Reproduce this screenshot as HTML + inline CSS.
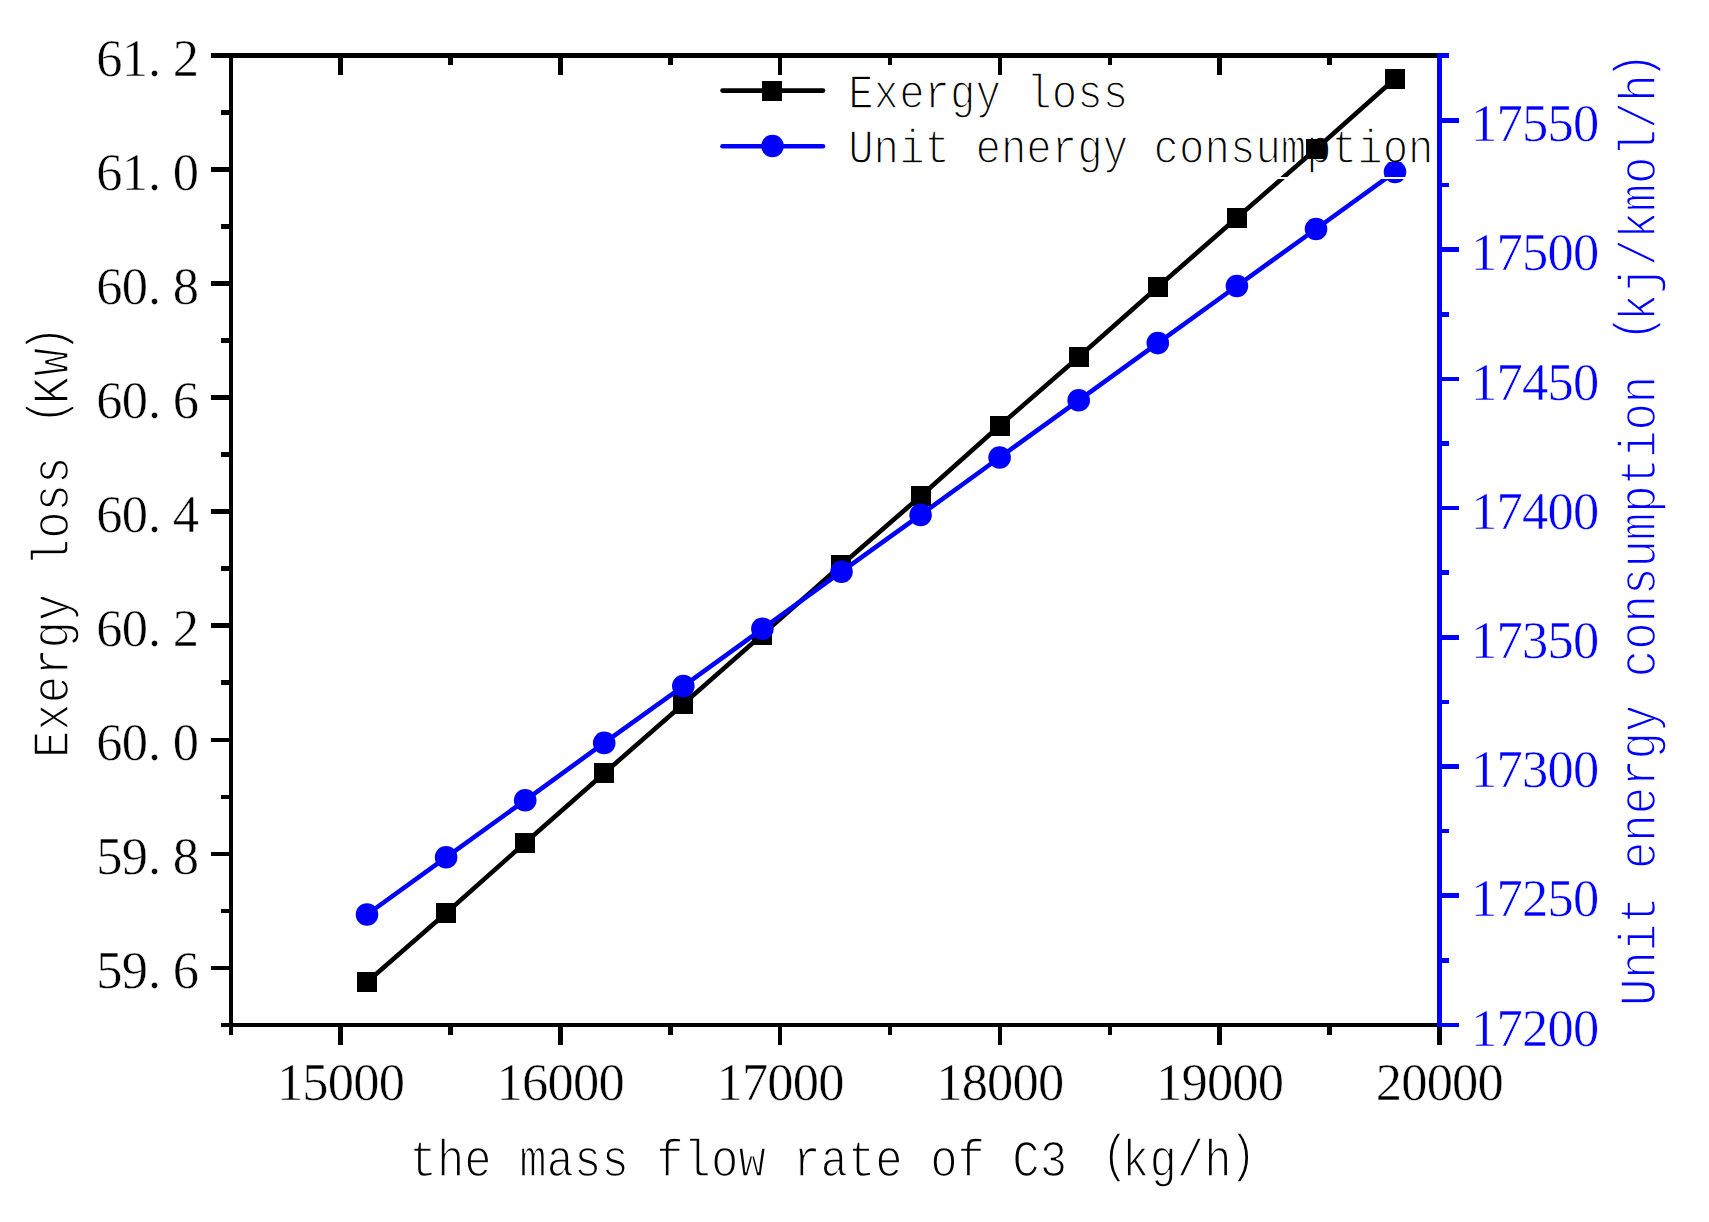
<!DOCTYPE html>
<html lang="en"><head><meta charset="utf-8"><title>Exergy loss and unit energy consumption vs mass flow rate of C3</title>
<style>html,body{margin:0;padding:0;background:#fff}svg{display:block}text{white-space:pre;stroke:#fff}text.n{font-family:"Liberation Serif",serif}text.m{font-family:"Liberation Mono",monospace}</style></head><body>
<svg width="1709" height="1222" viewBox="0 0 1709 1222">
<rect width="1709" height="1222" fill="#fff"/>
<g shape-rendering="crispEdges" fill="#000">
<rect x="221.00" y="1022.70" width="1218.50" height="4.60"/>
<rect x="211.00" y="53.10" width="1228.50" height="4.60"/>
<rect x="228.70" y="53.10" width="4.60" height="981.90"/>
<rect x="338.29" y="1025.00" width="4.60" height="20.00"/>
<rect x="338.29" y="55.40" width="4.60" height="20.00"/>
<rect x="448.18" y="1025.00" width="4.60" height="10.00"/>
<rect x="448.18" y="55.40" width="4.60" height="10.00"/>
<rect x="558.07" y="1025.00" width="4.60" height="20.00"/>
<rect x="558.07" y="55.40" width="4.60" height="20.00"/>
<rect x="667.96" y="1025.00" width="4.60" height="10.00"/>
<rect x="667.96" y="55.40" width="4.60" height="10.00"/>
<rect x="777.85" y="1025.00" width="4.60" height="20.00"/>
<rect x="777.85" y="55.40" width="4.60" height="20.00"/>
<rect x="887.75" y="1025.00" width="4.60" height="10.00"/>
<rect x="887.75" y="55.40" width="4.60" height="10.00"/>
<rect x="997.64" y="1025.00" width="4.60" height="20.00"/>
<rect x="997.64" y="55.40" width="4.60" height="20.00"/>
<rect x="1107.53" y="1025.00" width="4.60" height="10.00"/>
<rect x="1107.53" y="55.40" width="4.60" height="10.00"/>
<rect x="1217.42" y="1025.00" width="4.60" height="20.00"/>
<rect x="1217.42" y="55.40" width="4.60" height="20.00"/>
<rect x="1327.31" y="1025.00" width="4.60" height="10.00"/>
<rect x="1327.31" y="55.40" width="4.60" height="10.00"/>
<rect x="1437.20" y="1025.00" width="4.60" height="20.00"/>
<rect x="211.00" y="965.66" width="20.00" height="4.60"/>
<rect x="221.00" y="908.63" width="10.00" height="4.60"/>
<rect x="211.00" y="851.59" width="20.00" height="4.60"/>
<rect x="221.00" y="794.56" width="10.00" height="4.60"/>
<rect x="211.00" y="737.52" width="20.00" height="4.60"/>
<rect x="221.00" y="680.49" width="10.00" height="4.60"/>
<rect x="211.00" y="623.45" width="20.00" height="4.60"/>
<rect x="221.00" y="566.42" width="10.00" height="4.60"/>
<rect x="211.00" y="509.38" width="20.00" height="4.60"/>
<rect x="221.00" y="452.35" width="10.00" height="4.60"/>
<rect x="211.00" y="395.31" width="20.00" height="4.60"/>
<rect x="221.00" y="338.28" width="10.00" height="4.60"/>
<rect x="211.00" y="281.24" width="20.00" height="4.60"/>
<rect x="221.00" y="224.21" width="10.00" height="4.60"/>
<rect x="211.00" y="167.17" width="20.00" height="4.60"/>
<rect x="221.00" y="110.14" width="10.00" height="4.60"/>
</g>
<text class="m" transform="translate(848.2,107.9) scale(0.8889,1)" x="0.0 28.6 57.3 85.9 114.5 143.2 171.8 200.4 229.0 257.7 286.3" y="0" font-size="47.72" fill="#000" stroke-width="1.5">Exergy loss</text>
<text class="m" transform="translate(848.2,163.3) scale(0.8889,1)" x="0.0 28.6 57.3 85.9 114.5 143.2 171.8 200.4 229.0 257.7 286.3 314.9 343.6 372.2 400.8 429.5 458.1 486.7 515.4 544.0 572.6 601.3 629.9" y="0" font-size="47.72" fill="#000" stroke-width="1.5">Unit energy consumption</text>
<polyline fill="none" stroke="#000" stroke-width="4.6" stroke-linejoin="round" points="367.0,982.0 446.1,912.9 525.2,842.8 604.2,773.2 683.3,704.0 762.4,634.6 841.5,565.1 920.6,496.2 999.6,425.8 1078.7,357.0 1157.8,287.0 1236.9,217.8 1316.0,149.0 1395.0,78.7"/>
<g fill="#000" shape-rendering="crispEdges"><rect x="357" y="972" width="20" height="20"/><rect x="436" y="903" width="20" height="20"/><rect x="515" y="833" width="20" height="20"/><rect x="594" y="763" width="20" height="20"/><rect x="673" y="694" width="20" height="20"/><rect x="752" y="625" width="20" height="20"/><rect x="831" y="555" width="20" height="20"/><rect x="911" y="486" width="20" height="20"/><rect x="990" y="416" width="20" height="20"/><rect x="1069" y="347" width="20" height="20"/><rect x="1148" y="277" width="20" height="20"/><rect x="1227" y="208" width="20" height="20"/><rect x="1306" y="139" width="20" height="20"/><rect x="1385" y="69" width="20" height="20"/></g>
<defs><clipPath id="cb"><path d="M0 0H1709V1222H0Z M1270 100H1432V162H1270Z M1270 177H1432V179H1270Z" clip-rule="evenodd"/></clipPath></defs>
<g clip-path="url(#cb)">
<polyline fill="none" stroke="#0000ff" stroke-width="4.6" stroke-linejoin="round" points="367.0,914.5 446.1,857.3 525.2,800.3 604.2,742.9 683.3,686.1 762.4,628.8 841.5,571.7 920.6,514.9 999.6,457.5 1078.7,400.3 1157.8,343.1 1236.9,286.0 1316.0,229.0 1395.0,171.9"/>
<g fill="#0000ff"><circle cx="367.0" cy="914.5" r="11.3"/><circle cx="446.1" cy="857.3" r="11.3"/><circle cx="525.2" cy="800.3" r="11.3"/><circle cx="604.2" cy="742.9" r="11.3"/><circle cx="683.3" cy="686.1" r="11.3"/><circle cx="762.4" cy="628.8" r="11.3"/><circle cx="841.5" cy="571.7" r="11.3"/><circle cx="920.6" cy="514.9" r="11.3"/><circle cx="999.6" cy="457.5" r="11.3"/><circle cx="1078.7" cy="400.3" r="11.3"/><circle cx="1157.8" cy="343.1" r="11.3"/><circle cx="1236.9" cy="286.0" r="11.3"/><circle cx="1316.0" cy="229.0" r="11.3"/><circle cx="1395.0" cy="171.9" r="11.3"/></g>
</g>
<rect x="1276" y="177" width="16" height="2" fill="#fff"/>
<g shape-rendering="crispEdges" fill="#0000ff">
<rect x="1437.20" y="53.10" width="4.60" height="974.20"/>
<rect x="1439.50" y="1022.70" width="19.50" height="4.60"/>
<rect x="1439.50" y="958.09" width="9.50" height="4.60"/>
<rect x="1439.50" y="893.49" width="19.50" height="4.60"/>
<rect x="1439.50" y="828.88" width="9.50" height="4.60"/>
<rect x="1439.50" y="764.27" width="19.50" height="4.60"/>
<rect x="1439.50" y="699.66" width="9.50" height="4.60"/>
<rect x="1439.50" y="635.06" width="19.50" height="4.60"/>
<rect x="1439.50" y="570.45" width="9.50" height="4.60"/>
<rect x="1439.50" y="505.84" width="19.50" height="4.60"/>
<rect x="1439.50" y="441.23" width="9.50" height="4.60"/>
<rect x="1439.50" y="376.63" width="19.50" height="4.60"/>
<rect x="1439.50" y="312.02" width="9.50" height="4.60"/>
<rect x="1439.50" y="247.41" width="19.50" height="4.60"/>
<rect x="1439.50" y="182.80" width="9.50" height="4.60"/>
<rect x="1439.50" y="118.20" width="19.50" height="4.60"/>
<rect x="1439.50" y="53.10" width="9.50" height="4.60"/>
</g>
<line x1="722.5" y1="90.6" x2="823" y2="90.6" stroke="#000" stroke-width="4.6" stroke-linecap="round"/>
<rect x="762" y="81" width="20" height="20" fill="#000" shape-rendering="crispEdges"/>
<line x1="722.5" y1="146.3" x2="823" y2="146.3" stroke="#0000ff" stroke-width="4.6" stroke-linecap="round"/>
<circle cx="772.5" cy="146" r="11.3" fill="#0000ff"/>
<text class="n" x="96.3 121.8 147.9 172.7" y="988.1" font-size="52.5" fill="#000" stroke-width="0.5">59.6</text>
<text class="n" x="96.3 121.8 147.9 172.7" y="874.0" font-size="52.5" fill="#000" stroke-width="0.5">59.8</text>
<text class="n" x="96.3 121.8 147.9 172.7" y="759.9" font-size="52.5" fill="#000" stroke-width="0.5">60.0</text>
<text class="n" x="96.3 121.8 147.9 172.7" y="645.9" font-size="52.5" fill="#000" stroke-width="0.5">60.2</text>
<text class="n" x="96.3 121.8 147.9 172.7" y="531.8" font-size="52.5" fill="#000" stroke-width="0.5">60.4</text>
<text class="n" x="96.3 121.8 147.9 172.7" y="417.7" font-size="52.5" fill="#000" stroke-width="0.5">60.6</text>
<text class="n" x="96.3 121.8 147.9 172.7" y="303.6" font-size="52.5" fill="#000" stroke-width="0.5">60.8</text>
<text class="n" x="96.3 121.8 147.9 172.7" y="189.6" font-size="52.5" fill="#000" stroke-width="0.5">61.0</text>
<text class="n" x="96.3 121.8 147.9 172.7" y="75.5" font-size="52.5" fill="#000" stroke-width="0.5">61.2</text>
<text class="n" x="276.9 302.3 327.8 353.2 378.7" y="1099.7" font-size="52.5" fill="#000" stroke-width="0.5">15000</text>
<text class="n" x="496.6 522.1 547.5 573.0 598.4" y="1099.7" font-size="52.5" fill="#000" stroke-width="0.5">16000</text>
<text class="n" x="716.4 741.9 767.3 792.8 818.2" y="1099.7" font-size="52.5" fill="#000" stroke-width="0.5">17000</text>
<text class="n" x="936.2 961.7 987.1 1012.6 1038.0" y="1099.7" font-size="52.5" fill="#000" stroke-width="0.5">18000</text>
<text class="n" x="1156.0 1181.4 1206.9 1232.3 1257.8" y="1099.7" font-size="52.5" fill="#000" stroke-width="0.5">19000</text>
<text class="n" x="1375.8 1401.2 1426.7 1452.1 1477.6" y="1099.7" font-size="52.5" fill="#000" stroke-width="0.5">20000</text>
<text class="n" x="1471.1 1496.5 1522.0 1547.4 1572.9" y="1045.6" font-size="52.5" fill="#0000ff" stroke-width="0.5">17200</text>
<text class="n" x="1471.1 1496.5 1522.0 1547.4 1572.9" y="916.4" font-size="52.5" fill="#0000ff" stroke-width="0.5">17250</text>
<text class="n" x="1471.1 1496.5 1522.0 1547.4 1572.9" y="787.2" font-size="52.5" fill="#0000ff" stroke-width="0.5">17300</text>
<text class="n" x="1471.1 1496.5 1522.0 1547.4 1572.9" y="658.0" font-size="52.5" fill="#0000ff" stroke-width="0.5">17350</text>
<text class="n" x="1471.1 1496.5 1522.0 1547.4 1572.9" y="528.7" font-size="52.5" fill="#0000ff" stroke-width="0.5">17400</text>
<text class="n" x="1471.1 1496.5 1522.0 1547.4 1572.9" y="399.5" font-size="52.5" fill="#0000ff" stroke-width="0.5">17450</text>
<text class="n" x="1471.1 1496.5 1522.0 1547.4 1572.9" y="270.3" font-size="52.5" fill="#0000ff" stroke-width="0.5">17500</text>
<text class="n" x="1471.1 1496.5 1522.0 1547.4 1572.9" y="141.1" font-size="52.5" fill="#0000ff" stroke-width="0.5">17550</text>
<text class="m" transform="translate(409.6,1175.9) scale(0.8889,1)" x="0.0 30.8 61.6 92.5 123.3 154.1 184.9 215.8 246.6 277.4 308.2 339.1 369.9 400.7 431.5 462.4 493.2 524.0 554.8 585.7 616.5 647.3 678.1 709.0 739.8 778.5 801.4 832.3 863.1 893.9 921.9" y="0 0 0 0 0 0 0 0 0 0 0 0 0 0 0 0 0 0 0 0 0 0 0 0 0 -5 0 0 0 0 -5" font-size="51.37" fill="#000" stroke-width="1.5">the mass flow rate of C3 (kg/h)</text>
<text class="m" transform="translate(67.8,758.0) rotate(-90) scale(0.8889,1)" x="0.0 30.8 61.6 92.5 123.3 154.1 184.9 215.8 246.6 277.4 308.2 339.1 375.0 397.9 429.9 455.6" y="0 0 0 0 0 0 0 0 0 0 0 0 -5 0 0 -5" font-size="51.37" fill="#000" stroke-width="1.5">Exergy loss (KW)</text>
<text class="m" transform="translate(1655.3,1006.0) rotate(-90) scale(0.8889,1)" x="0.0 30.8 61.6 92.5 123.3 154.1 184.9 215.8 246.6 277.4 308.2 339.1 369.9 400.7 431.5 462.4 493.2 524.0 554.8 585.7 616.5 647.3 678.1 709.0 747.7 770.6 801.4 832.3 863.1 893.9 924.7 955.6 986.4 1017.2 1041.9" y="0 0 0 0 0 0 0 0 0 0 0 0 0 0 0 0 0 0 0 0 0 0 0 0 -5 0 0 0 0 0 0 0 0 0 -5" font-size="51.37" fill="#0000ff" stroke-width="1.5">Unit energy consumption (kj/kmol/h)</text>
</svg></body></html>
